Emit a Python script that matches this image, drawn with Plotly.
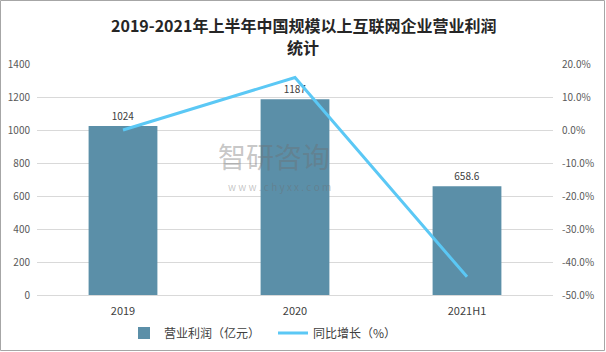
import plotly.graph_objects as go

categories = ["2019", "2020", "2021H1"]
profit = [1024, 1187, 658.6]
profit_labels = ["1024", "1187", "658.6"]
growth = [0.0, 15.9, -44.5]
left_ticks = [0, 200, 400, 600, 800, 1000, 1200, 1400]
right_ticks = [20, 10, 0, -10, -20, -30, -40, -50]
right_tick_text = [f"{v:.1f}%" for v in right_ticks]
title_lines = ["2019-2021年上半年中国规模以上互联网企业营业利润", "统计"]

font_family = "Noto Sans CJK SC, Noto Sans, sans-serif"
tick_color = "#595959"

W, H = 606, 352
ML, MR, MT, MB = 37, 53, 64, 57
PW, PH = W - ML - MR, H - MT - MB

fig = go.Figure()
fig.add_trace(go.Bar(
    x=categories, y=profit, name="营业利润（亿元）",
    marker=dict(color="#5b8fa8", line=dict(width=0)),
    text=profit_labels, textposition="outside",
    textfont=dict(size=10, color="#404040"), cliponaxis=False,
))
fig.add_trace(go.Scatter(
    x=categories, y=growth, name="同比增长（%）", yaxis="y2",
    mode="lines", line=dict(color="#5bc8f5", width=3),
))

fig.update_layout(
    width=W, height=H,
    margin=dict(l=ML, r=MR, t=MT, b=MB, autoexpand=False),
    paper_bgcolor="white", plot_bgcolor="white",
    font=dict(family=font_family, size=10, color=tick_color),
    bargap=0.6,
    showlegend=True,
    legend=dict(orientation="h", xref="container", x=124 / W, xanchor="left",
                yref="container", y=1 - 333 / H, yanchor="middle",
                font=dict(size=12, color="#404040"), itemwidth=30,
                entrywidth=104, bgcolor="rgba(0,0,0,0)"),
    xaxis=dict(showgrid=False, showline=True, linecolor="#d9d9d9", linewidth=1,
               ticks="", ticklabelstandoff=6, tickfont=dict(size=11, color="#404040")),
    yaxis=dict(range=[0, 1400], tickvals=left_ticks, showgrid=True, gridcolor="#d9d9d9",
               zeroline=False, ticks="", ticklabelstandoff=6,
               tickfont=dict(size=10, color=tick_color)),
    yaxis2=dict(range=[-50, 20], tickvals=right_ticks, ticktext=right_tick_text,
                overlaying="y", side="right", showgrid=False, zeroline=False,
                ticks="", ticklabelstandoff=8, tickfont=dict(size=10, color=tick_color)),
    shapes=[dict(type="rect", xref="paper", yref="paper",
                 x0=-(ML - 0.5) / PW, x1=1 + (MR - 1.5) / PW,
                 y0=-(MB - 1.5) / PH, y1=1 + (MT - 0.5) / PH,
                 line=dict(color="#a6a6a6", width=1), layer="below")],
)
# title as two lines
for line, ypix in zip(title_lines, [25, 47]):
    fig.add_annotation(text=f"<b>{line}</b>", xref="paper", yref="paper",
                       x=(W / 2 - ML) / PW, y=1 + (MT - ypix) / PH,
                       xanchor="center", yanchor="middle", showarrow=False,
                       font=dict(size=16, color="#262626", family=font_family))
# watermark
fig.add_annotation(text="智研咨询", xref="paper", yref="paper", x=0.46, y=0.6,
                   showarrow=False, font=dict(size=28, color="rgba(110,110,110,0.4)"))
fig.add_annotation(text="w w w . c h y x x . c o m", xref="paper", yref="paper", x=0.47, y=0.47,
                   showarrow=False, font=dict(size=10, color="rgba(110,110,110,0.4)"))
fig.write_html("out.html")
